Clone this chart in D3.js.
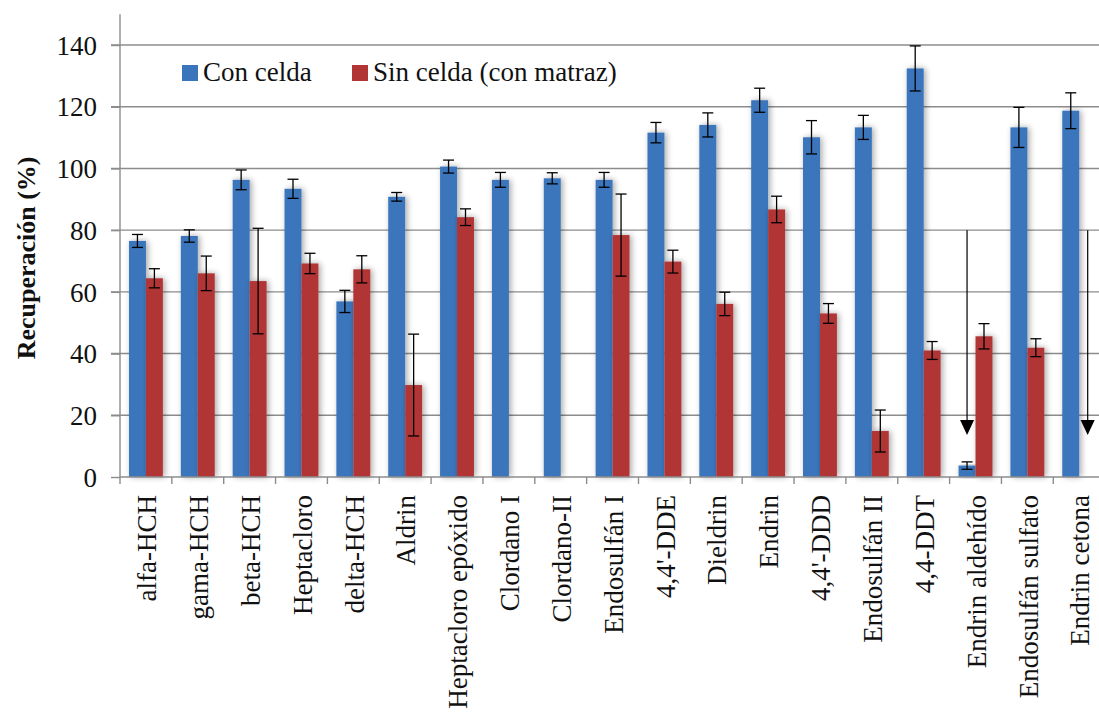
<!DOCTYPE html>
<html>
<head>
<meta charset="utf-8">
<script src="https://cdn.jsdelivr.net/npm/d3@7"></script>
<style>
  html, body { margin: 0; padding: 0; background: #fff; }
  svg { display: block; }
</style>
</head>
<body>
<svg id="chart" width="1099" height="714" font-family="'Liberation Serif', 'Times New Roman', serif"></svg>
<script>
// Pesticide recoveries (%) with and without the extraction cell
const categories = [
  "alfa-HCH", "gama-HCH", "beta-HCH", "Heptacloro", "delta-HCH", "Aldrin",
  "Heptacloro epóxido", "Clordano I", "Clordano-II", "Endosulfán I", "4,4'-DDE",
  "Dieldrin", "Endrin", "4,4'-DDD", "Endosulfán II", "4,4-DDT",
  "Endrin aldehído", "Endosulfán sulfato", "Endrin cetona"
];
const seriesNames = ["Con celda", "Sin celda (con matraz)"];
const conCelda    = [76.5, 78.1, 96.3, 93.4, 56.9, 90.8, 100.6, 96.3, 96.8, 96.3, 111.6, 114.1, 122.1, 110.1, 113.3, 132.4, 3.7, 113.3, 118.7];
const conCeldaErr = [2.1, 2.0, 3.2, 3.1, 3.6, 1.4, 2.1, 2.4, 1.8, 2.4, 3.3, 3.9, 3.9, 5.4, 3.9, 7.3, 1.2, 6.5, 5.8];
const sinCelda    = [64.4, 66.0, 63.5, 69.2, 67.3, 29.8, 84.2, null, null, 78.4, 69.8, 56.1, 86.7, 53.0, 14.9, 41.0, 45.6, 41.9, null];
const sinCeldaErr = [3.1, 5.6, 17.1, 3.3, 4.4, 16.5, 2.7, null, null, 13.3, 3.7, 3.8, 4.3, 3.2, 6.8, 2.9, 4.1, 2.9, null];
const yTicks = [0, 20, 40, 60, 80, 100, 120, 140];
const yAxisTitle = "Recuperación (%)";
// Downward arrows marking the low / not-recovered results
const arrows = [
  { category: "Endrin aldehído", series: "Con celda", from: 80, to: 13.6 },
  { category: "Endrin cetona", series: "Sin celda (con matraz)", from: 80, to: 13.6 }
];

const FONT = "'Liberation Serif', 'Times New Roman', serif";
const colors = { "Con celda": "#3a74bb", "Sin celda (con matraz)": "#b23536" };

const svg = d3.select("#chart");
const left = 120, bottom = 477, catStep = 51.85;
const right = left + catStep * categories.length;

const x0 = d3.scaleBand().domain(categories).range([left, right]).padding(0);
const x1 = d3.scaleBand().domain(seriesNames).range([0, x0.bandwidth()])
  .paddingInner(0).paddingOuter(0.53);
const y = d3.scaleLinear().domain([0, 150]).range([bottom, bottom - 150 * 3.0857]);

const rows = categories.map((c, i) => ({
  category: c,
  values: [
    { series: seriesNames[0], value: conCelda[i], err: conCeldaErr[i] },
    { series: seriesNames[1], value: sinCelda[i], err: sinCeldaErr[i] }
  ].filter(d => d.value != null)
}));

// soft shadow behind the bars
const defs = svg.append("defs");
const f = defs.append("filter").attr("id", "shadow")
  .attr("x", "-50%").attr("y", "-10%").attr("width", "200%").attr("height", "120%");
f.append("feGaussianBlur").attr("in", "SourceAlpha").attr("stdDeviation", 3).attr("result", "b");
f.append("feOffset").attr("in", "b").attr("dx", 1.5).attr("dy", 0).attr("result", "o");
f.append("feComponentTransfer").attr("in", "o").attr("result", "s")
  .append("feFuncA").attr("type", "linear").attr("slope", 0.35);
const m = f.append("feMerge");
m.append("feMergeNode").attr("in", "s");
m.append("feMergeNode").attr("in", "SourceGraphic");

// gridlines
svg.append("g").selectAll("line").data(yTicks.filter(t => t > 0)).join("line")
  .attr("x1", left - 9).attr("x2", 1099)
  .attr("y1", d => y(d)).attr("y2", d => y(d))
  .attr("stroke", "#8c8c8c").attr("stroke-width", 1.4);

// y axis
const yAxis = svg.append("g").attr("transform", `translate(${left},0)`)
  .call(d3.axisLeft(y).tickValues(yTicks).tickSize(9).tickPadding(14))
  .attr("font-family", FONT);
yAxis.select(".domain").remove();
yAxis.append("line").attr("x1", 0).attr("x2", 0).attr("y1", y(150)).attr("y2", bottom)
  .attr("stroke", "#8c8c8c").attr("stroke-width", 1.4);
yAxis.selectAll(".tick line").attr("stroke", "#8c8c8c").attr("stroke-width", 1.4);
yAxis.selectAll(".tick text").attr("font-size", 27).attr("fill", "#111").attr("dy", "0.34em");

// y axis title
svg.append("text")
  .attr("transform", `translate(26,${y(71)}) rotate(-90)`)
  .attr("text-anchor", "middle").attr("font-size", 26).attr("font-weight", "bold")
  .attr("font-family", FONT).attr("fill", "#111")
  .attr("dy", "0.34em")
  .text(yAxisTitle);

// bars
const groups = svg.append("g").selectAll("g").data(rows).join("g")
  .attr("transform", d => `translate(${x0(d.category)},0)`);
groups.selectAll("rect").data(d => d.values).join("rect")
  .attr("x", d => x1(d.series)).attr("width", x1.bandwidth())
  .attr("y", d => y(d.value)).attr("height", d => y(0) - y(d.value))
  .attr("fill", d => colors[d.series]).attr("filter", "url(#shadow)");

// error bars
const eb = groups.selectAll("g.err").data(d => d.values).join("g").attr("class", "err")
  .attr("stroke", "#000").attr("stroke-width", 1.3);
const cx = d => x1(d.series) + x1.bandwidth() / 2;
eb.append("line").attr("x1", cx).attr("x2", cx)
  .attr("y1", d => y(d.value + d.err)).attr("y2", d => y(d.value - d.err));
eb.append("line").attr("x1", d => cx(d) - 5.5).attr("x2", d => cx(d) + 5.5)
  .attr("y1", d => y(d.value + d.err)).attr("y2", d => y(d.value + d.err));
eb.append("line").attr("x1", d => cx(d) - 5.5).attr("x2", d => cx(d) + 5.5)
  .attr("y1", d => y(d.value - d.err)).attr("y2", d => y(d.value - d.err));

// x axis
svg.append("line").attr("x1", left).attr("x2", 1099).attr("y1", bottom).attr("y2", bottom)
  .attr("stroke", "#8c8c8c").attr("stroke-width", 1.4);
svg.append("g").selectAll("line").data(categories).join("line")
  .attr("x1", d => x0(d)).attr("x2", d => x0(d))
  .attr("y1", bottom).attr("y2", bottom + 7)
  .attr("stroke", "#8c8c8c").attr("stroke-width", 1.4);
svg.append("g").selectAll("text").data(categories).join("text")
  .attr("transform", d => `translate(${x0(d) + x0.bandwidth() / 2 + 1},495) rotate(-90)`)
  .attr("text-anchor", "end").attr("dy", "0.34em").attr("font-size", 27)
  .attr("font-family", FONT).attr("fill", "#111")
  .text(d => d);

// arrows
const ag = svg.append("g").selectAll("g").data(arrows).join("g")
  .attr("transform", d => `translate(${x0(d.category) + x1(d.series) + x1.bandwidth() / 2},0)`);
ag.append("line").attr("x1", 0).attr("x2", 0)
  .attr("y1", d => y(d.from)).attr("y2", d => y(d.to) - 10)
  .attr("stroke", "#000").attr("stroke-width", 1.2);
ag.append("path")
  .attr("d", d => `M-7,${y(d.to) - 15}L7,${y(d.to) - 15}L0,${y(d.to)}Z`)
  .attr("fill", "#000");

// legend
const legend = svg.append("g");
const legendX = [182, 352];
seriesNames.forEach((s, i) => {
  legend.append("rect").attr("x", legendX[i]).attr("y", 65).attr("width", 16).attr("height", 16)
    .attr("fill", colors[s]);
  legend.append("text").attr("x", legendX[i] + 21).attr("y", 81).attr("font-size", 27)
    .attr("font-family", FONT).attr("fill", "#111").text(s);
});
</script>
</body>
</html>
